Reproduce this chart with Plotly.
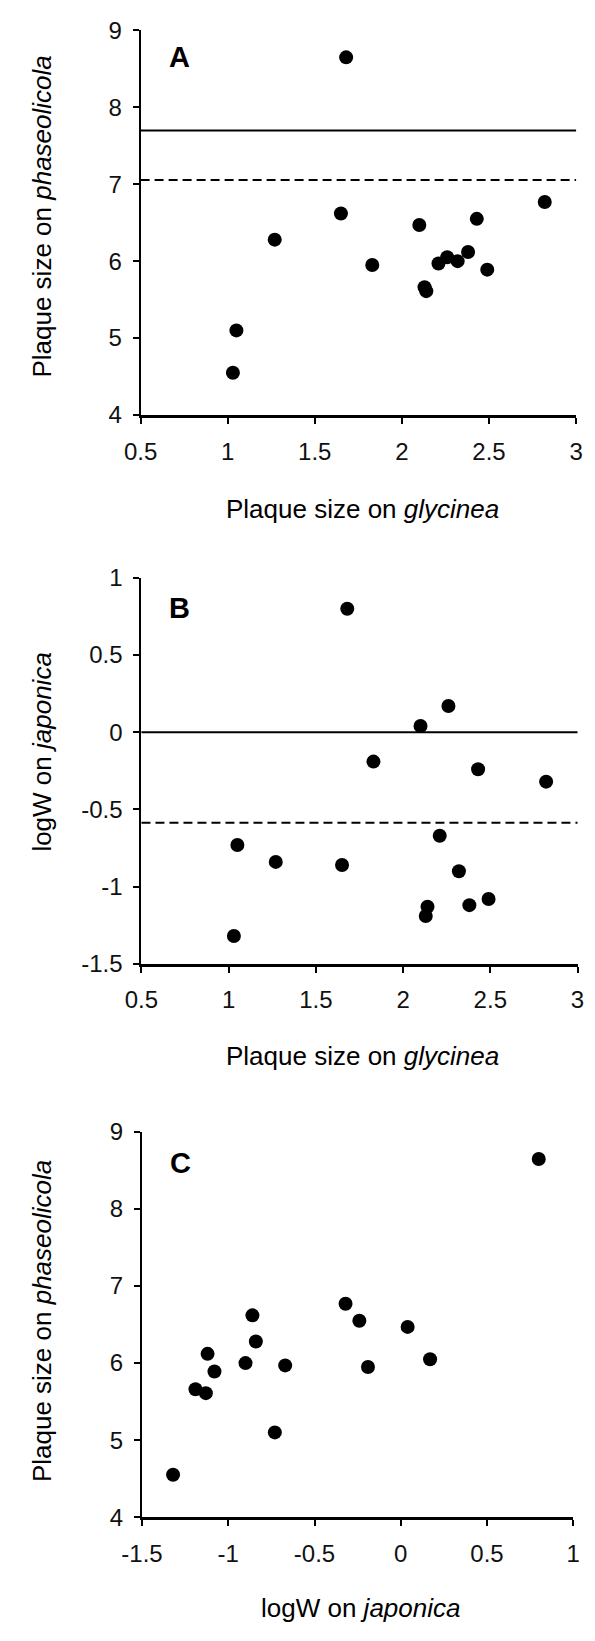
import plotly.graph_objects as go

# Per-strain measurements (same strain order in every list)
glycinea_size = [1.68, 2.10, 2.26, 1.83, 2.43, 2.82, 2.21, 1.05,
                 1.27, 1.65, 2.32, 2.13, 2.14, 2.38, 2.49, 1.03]
phaseolicola_size = [8.65, 6.47, 6.05, 5.95, 6.55, 6.77, 5.97, 5.10,
                     6.28, 6.62, 6.00, 5.66, 5.61, 6.12, 5.89, 4.55]
japonica_logw = [0.80, 0.04, 0.17, -0.19, -0.24, -0.32, -0.67, -0.73,
                 -0.84, -0.86, -0.90, -1.19, -1.13, -1.12, -1.08, -1.32]

# Reference levels drawn as horizontal lines
phaseolicola_solid = 7.70
phaseolicola_dashed = 7.055
japonica_solid = 0.0
japonica_dashed = -0.586

# Tick values / labels
glycinea_ticks = [0.5, 1, 1.5, 2, 2.5, 3]
glycinea_labels = ["0.5", "1", "1.5", "2", "2.5", "3"]
phaseolicola_ticks = [4, 5, 6, 7, 8, 9]
phaseolicola_labels = ["4", "5", "6", "7", "8", "9"]
japonica_ticks = [-1.5, -1, -0.5, 0, 0.5, 1]
japonica_labels = ["-1.5", "-1", "-0.5", "0", "0.5", "1"]

W, H = 595, 1641
FONT = "Liberation Sans, Arial, sans-serif"


def px_x(x):
    return x / W


def px_y(y):
    return 1 - y / H


fig = go.Figure()

marker = dict(color="black", size=14, line=dict(width=0))

fig.add_trace(go.Scatter(x=glycinea_size, y=phaseolicola_size, mode="markers",
                         marker=marker, xaxis="x", yaxis="y", showlegend=False))
fig.add_trace(go.Scatter(x=glycinea_size, y=japonica_logw, mode="markers",
                         marker=marker, xaxis="x2", yaxis="y2", showlegend=False))
fig.add_trace(go.Scatter(x=japonica_logw, y=phaseolicola_size, mode="markers",
                         marker=marker, xaxis="x3", yaxis="y3", showlegend=False))


# horizontal reference lines in panels A and B
def hline(xref, yref, y, dash):
    return dict(type="line", xref=xref + " domain", yref=yref, x0=0, x1=1, y0=y, y1=y,
                line=dict(color="black", width=2, dash=dash), layer="below")


fig.update_layout(shapes=[
    hline("x", "y", phaseolicola_solid, "solid"),
    hline("x", "y", phaseolicola_dashed, "9px,5px"),
    hline("x2", "y2", japonica_solid, "solid"),
    hline("x2", "y2", japonica_dashed, "9px,5px"),
])

tickfont = dict(family=FONT, size=24, color="#111")


def xaxis(domain, rng, tv, tt, anchor):
    return dict(domain=domain, range=rng, tickvals=tv, ticktext=tt, anchor=anchor,
                showline=True, linecolor="black", linewidth=2.5, ticks="outside",
                ticklen=6, tickwidth=2, tickcolor="black", showgrid=False,
                zeroline=False, tickfont=tickfont, ticklabelstandoff=7)


def yaxis(domain, rng, tv, tt, anchor):
    return dict(domain=domain, range=rng, tickvals=tv, ticktext=tt, anchor=anchor,
                showline=True, linecolor="black", linewidth=2, ticks="outside",
                ticklen=6, tickwidth=2, tickcolor="black", showgrid=False,
                zeroline=False, tickfont=tickfont, ticklabelstandoff=6)


fig.update_layout(
    width=W, height=H,
    margin=dict(l=0, r=0, t=0, b=0),
    paper_bgcolor="white", plot_bgcolor="white",
    font=dict(family=FONT, color="black"),
    xaxis=xaxis([px_x(125.5), px_x(582.5)], [0.5, 3], glycinea_ticks, glycinea_labels, "y"),
    yaxis=yaxis([px_y(407.7), px_y(16.7)], [4, 9], phaseolicola_ticks, phaseolicola_labels, "x"),
    xaxis2=xaxis([px_x(126.4), px_x(584.0)], [0.5, 3], glycinea_ticks, glycinea_labels, "y2"),
    yaxis2=yaxis([px_y(965.7), px_y(573.3)], [-1.5, 1], japonica_ticks, japonica_labels, "x2"),
    xaxis3=xaxis([px_x(127.0), px_x(579.5)], [-1.5, 1], japonica_ticks, japonica_labels, "y3"),
    yaxis3=yaxis([px_y(1528.3), px_y(1136.7)], [4, 9], phaseolicola_ticks, phaseolicola_labels, "x3"),
)

annotations = []


def text(x, y, s, size=26, angle=0, bold=False):
    annotations.append(dict(
        x=px_x(x), y=px_y(y), xref="paper", yref="paper", text=s, showarrow=False,
        textangle=angle, xanchor="center", yanchor="middle",
        font=dict(family=FONT, size=size, color="black",
                  weight="bold" if bold else "normal")))


# panel letters
text(166, 44, "A", size=29, bold=True)
text(166, 604, "B", size=29, bold=True)
text(167, 1168, "C", size=29, bold=True)

# axis titles
text(358, 503, "Plaque size on <i>glycinea</i>")
text(358, 1059, "Plaque size on <i>glycinea</i>")
text(356, 1621, "logW on <i>japonica</i>")
text(22, 206, "Plaque size on <i>phaseolicola</i>", angle=-90)
text(22, 750, "logW on <i>japonica</i>", angle=-90)
text(22, 1329, "Plaque size on <i>phaseolicola</i>", angle=-90)

fig.update_layout(annotations=annotations)

fig.write_html("out.html")
